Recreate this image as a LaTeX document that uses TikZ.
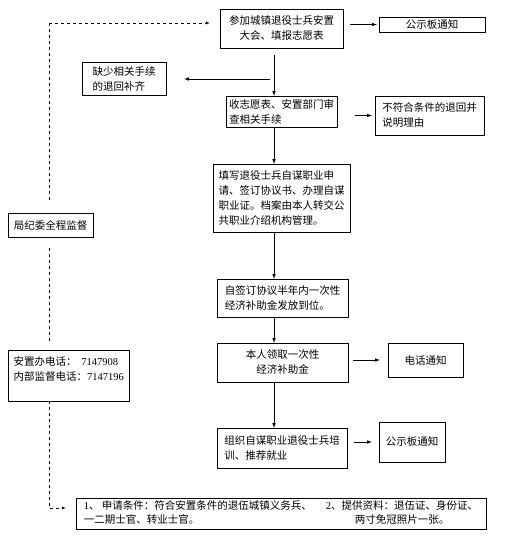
\documentclass[tikz,border=0pt]{standalone}
\usepackage{fontspec}
\newfontfamily\cjk{Noto Sans CJK SC}
\newfontfamily\num{Liberation Serif}
\tikzset{
  box/.style={draw, thin, inner sep=3pt, font=\cjk\fontsize{10.5}{15}\selectfont},
  arr/.style={->, semithick},
  watch/.style={->, thin, dashed}
}
\begin{document}
\begin{tikzpicture}[>=latex, x=1pt, y=-1pt]
    \useasboundingbox (0,0) rectangle (524,541);
    % 主流程
    \node[box, align=center, minimum width=123pt, minimum height=39pt] (sign) at (281.5,28.5)
        {参加城镇退役士兵安置\\大会、填报志愿表};
    \node[box, inner ysep=1pt, minimum width=106pt, minimum height=15pt] (notice1) at (432,24.5) {公示板通知};
    \node[box, align=left, minimum width=84pt, minimum height=33pt] (lack) at (124,78.5)
        {缺少相关手续\\的退回补齐};
    \node[box, align=left, minimum width=111pt, minimum height=31pt, inner xsep=2pt] (review) at (281.5,111.5)
        {收志愿表、安置部门审\\查相关手续};
    \node[box, align=left, minimum width=109pt, minimum height=39pt] (reject) at (429.5,115.5)
        {不符合条件的退回并\\说明理由};
    \node[box, align=left, minimum width=137pt, minimum height=68pt] (apply) at (281.5,198)
        {填写退役士兵自谋职业申\\请、签订协议书、办理自谋\\职业证。档案由本人转交公\\共职业介绍机构管理。};
    \node[box, align=left, minimum width=131pt, minimum height=38pt] (subsidy) at (282.5,298)
        {自签订协议半年内一次性\\经济补助金发放到位。};
    \node[box, align=center, minimum width=131pt, minimum height=39pt] (receive) at (282.5,362.5)
        {本人领取一次性\\经济补助金};
    \node[box, minimum width=75pt, minimum height=34pt] (phone) at (425.5,360) {电话通知};
    \node[box, align=left, minimum width=130pt, minimum height=40pt] (train) at (282,448)
        {组织自谋职业退役士兵培\\训、推荐就业};
    \node[box, minimum width=66pt, minimum height=40pt] (notice2) at (412,442) {公示板通知};
    \node[box, minimum width=410pt, minimum height=31pt, inner ysep=1pt] (cond) at (281,513.5)
        {\begin{tabular}{@{}l@{\hspace{14pt}}c@{}}
         {\num 1}、 申请条件：符合安置条件的退伍城镇义务兵、 & {\num 2}、提供资料：退伍证、身份证、\\[-1pt]
         一二期士官、转业士官。 & 两寸免冠照片一张。
         \end{tabular}};
    % 监督
    \node[box, align=left, minimum width=85pt, minimum height=24pt] (jiwei) at (50.5,225) {局纪委全程监督};
    \node[box, align=left, anchor=north west, minimum width=121pt, minimum height=51pt] (tel) at (8,350)
        {安置办电话：\ \ {\num 7147908}\\内部监督电话：{\num 7147196}\\\mbox{}};
    \coordinate (spine) at (274,0);
    \coordinate (split) at (270,79);
    \coordinate (top) at (49,23);
    \coordinate (bottom) at (49,508);
    % 箭头
    \draw[arr, shorten <=7pt] (sign.south -| spine) -- (review.north -| spine);
    \draw[arr, shorten >=18pt] (split) -- (lack.east |- split);
    \draw[arr, shorten <=7pt, shorten >=2pt] (sign.east |- notice1.west) -- (notice1.west);
    \draw[arr, shorten <=18pt, shorten >=3pt] (review.east |- reject.west) -- (reject.west);
    \draw[arr] (review.south -| spine) -- (apply.north -| spine);
    \draw[arr] (apply.south -| spine) -- (subsidy.north -| spine);
    \draw[arr] (subsidy.south -| spine) -- (receive.north -| spine);
    \draw[arr, shorten <=5pt, shorten >=8pt] (receive.east |- phone.west) -- (phone.west);
    \draw[arr] (receive.south -| spine) -- (train.north -| spine);
    \draw[arr, shorten <=7pt, shorten >=7pt] (train.east |- notice2.west) -- (notice2.west);
    % 虚线
    \draw[watch, shorten >=10pt] (top) -- (sign.west |- top);
    \draw[thin, dashed, shorten >=10pt] (top) -- (jiwei.north -| top);
    \draw[thin, dashed, shorten <=11pt, shorten >=9pt] (jiwei.south -| top) -- (tel.north -| top);
    \draw[watch, shorten >=10pt] (tel.south -| top) -- (bottom) -- (cond.west |- bottom);
\end{tikzpicture}
\end{document}
